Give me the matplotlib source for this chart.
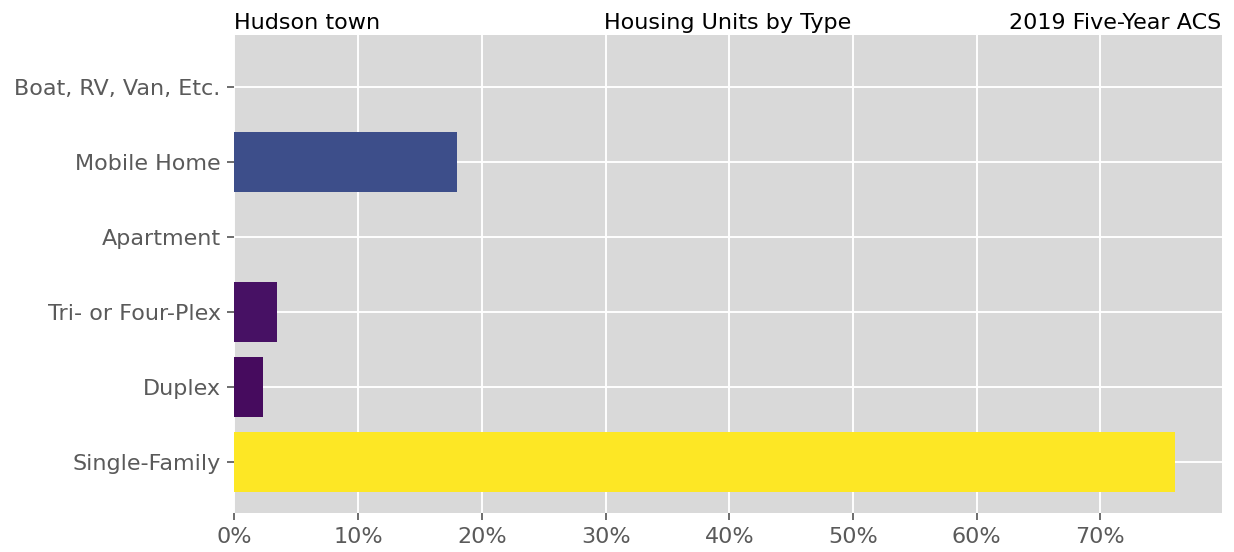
import numpy as np
import matplotlib
matplotlib.use("Agg")
import matplotlib.pyplot as plt
from matplotlib.ticker import PercentFormatter

# housing unit types, bottom to top
categories = ['Single-Family', 'Duplex', 'Tri- or Four-Plex', 'Apartment',
              'Mobile Home', 'Boat, RV, Van, Etc.']
shares = [76.0, 2.3, 3.4, 0.0, 18.0, 0.0]  # percent of housing units

place = 'Hudson town'
title = 'Housing Units by Type'
source = '2019 Five-Year ACS'

plt.style.use('ggplot')
plt.rcParams['font.family'] = ['DejaVu Sans']
fig, ax = plt.subplots(figsize=(12.34, 5.52), dpi=100)
fig.subplots_adjust(left=0.19, right=0.99, top=0.937, bottom=0.07)

vals = np.array(shares)
colors = plt.cm.viridis(vals / vals.max())
ax.barh(categories, vals, height=0.8, color=colors)

ax.set_facecolor('#d9d9d9')
ax.grid(True, color='white', linewidth=1.4)
ax.set_axisbelow(True)
ax.xaxis.set_major_formatter(PercentFormatter(decimals=0))
ax.set_xticks(np.arange(0, 80, 10))
ax.tick_params(axis='both', labelsize=16, colors='#555555', labelcolor='#5a5a5a',
               length=5, width=1.2, pad=5)
for s in ax.spines.values():
    s.set_visible(False)

ax.set_title(place, loc='left', fontsize=16, color='black', pad=4)
ax.set_title(title, loc='center', fontsize=16, color='black', pad=4)
ax.set_title(source, loc='right', fontsize=16, color='black', pad=4)

plt.savefig('out.png', dpi=100)
plt.close()
